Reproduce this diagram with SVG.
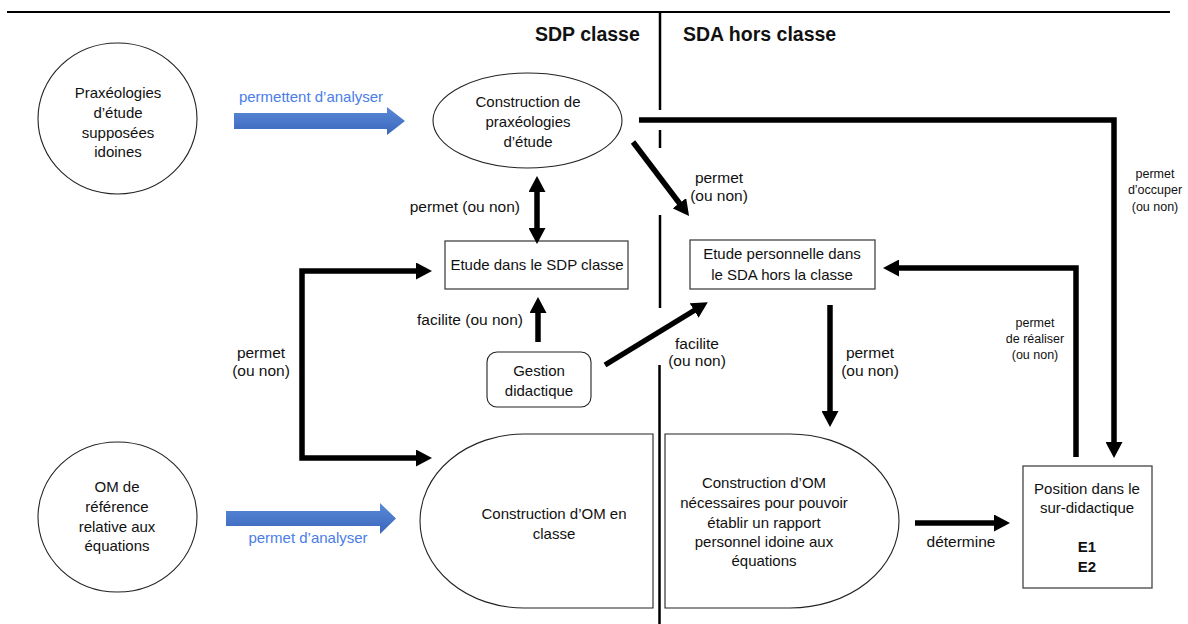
<svg xmlns="http://www.w3.org/2000/svg" width="1188" height="624" viewBox="0 0 1188 624">
<style>
text{font-family:"Liberation Sans",Arial,sans-serif;font-size:15px;fill:#111;}
.c{text-anchor:middle;}
.e{text-anchor:end;}
.t{font-size:19.5px;font-weight:bold;}
.s{font-size:12.5px;}
.lb{font-size:15.5px;}
.bl{fill:#4a7de8;}
.b{font-weight:bold;}
.node{fill:#fff;stroke:#222;stroke-width:1.1;}
.box{fill:#fff;stroke:#444;stroke-width:1.3;}
.con{fill:none;stroke:#000;stroke-width:5.5;}
.div{stroke:#000;stroke-width:2.5;}
</style>
<defs>
<marker id="ah" markerWidth="17" markerHeight="17" refX="1" refY="8.5" orient="auto-start-reverse" markerUnits="userSpaceOnUse">
<path d="M0,0 L16,8.5 L0,17 Z" fill="#000"/>
</marker>
<linearGradient id="bg" x1="0" y1="0" x2="0" y2="1">
<stop offset="0" stop-color="#5b8ad8"/>
<stop offset="1" stop-color="#3a66bc"/>
</linearGradient>
</defs>
<rect width="1188" height="624" fill="#fff"/>
<line x1="7" y1="12" x2="1170" y2="12" stroke="#000" stroke-width="2"/>
<g id="divider">
<line class="div" x1="660" y1="12" x2="660" y2="110"/>
<line class="div" x1="660" y1="130" x2="660" y2="148"/>
<line class="div" x1="660" y1="215" x2="660" y2="308"/>
<line class="div" x1="659.5" y1="365" x2="659.5" y2="624" stroke-width="3.2"/>
</g>
<text class="t" x="535" y="41">SDP classe</text>
<text class="t" x="683" y="41">SDA hors classe</text>

<g id="n-praxeo-idoines">
<ellipse class="node" cx="117.5" cy="118.5" rx="79.5" ry="75.5"/>
<text class="c" x="118" y="98">Praxéologies</text>
<text class="c" x="118" y="118">d’étude</text>
<text class="c" x="118" y="138">supposées</text>
<text class="c" x="118" y="157">idoines</text>
</g>
<g id="n-construction-praxeo">
<ellipse class="node" cx="527.5" cy="120.5" rx="94.5" ry="47.5"/>
<text class="c" x="528" y="107">Construction de</text>
<text class="c" x="528" y="127">praxéologies</text>
<text class="c" x="528" y="147">d’étude</text>
</g>
<g id="n-etude-sdp">
<rect class="box" x="445" y="241" width="183" height="48"/>
<text class="c" x="537" y="270">Etude dans le SDP classe</text>
</g>
<g id="n-gestion">
<rect class="node" x="487" y="352" width="104" height="55" rx="10"/>
<text class="c" x="539" y="376">Gestion</text>
<text class="c" x="539" y="396">didactique</text>
</g>
<g id="n-etude-perso">
<rect class="box" x="690" y="240" width="185" height="49"/>
<text class="c" x="782" y="259">Etude personnelle dans</text>
<text class="c" x="782" y="280">le SDA hors la classe</text>
</g>
<g id="n-om-reference">
<ellipse class="node" cx="117.5" cy="517" rx="79.5" ry="75"/>
<text class="c" x="117" y="492">OM de</text>
<text class="c" x="117" y="512">référence</text>
<text class="c" x="117" y="532">relative aux</text>
<text class="c" x="117" y="551">équations</text>
</g>
<g id="n-om-classe">
<path class="node" d="M653,434 L524,434 A104,87 0 0 0 524,608 L653,608 Z"/>
<text class="c" x="554" y="519">Construction d’OM en</text>
<text class="c" x="554" y="539">classe</text>
</g>
<g id="n-om-necessaires">
<path class="node" d="M665,434 L790,434 A109,87 0 0 1 790,608 L665,608 Z"/>
<text class="c" x="764" y="488">Construction d’OM</text>
<text class="c" x="764" y="508">nécessaires pour pouvoir</text>
<text class="c" x="764" y="528">établir un rapport</text>
<text class="c" x="764" y="547">personnel idoine aux</text>
<text class="c" x="764" y="566">équations</text>
</g>
<g id="n-position">
<rect class="box" x="1023" y="466" width="129" height="122"/>
<text class="c" x="1087" y="494">Position dans le</text>
<text class="c" x="1087" y="513">sur-didactique</text>
<text class="c b" x="1087" y="552">E1</text>
<text class="c b" x="1087" y="572">E2</text>
</g>

<g id="connectors">
<polygon fill="url(#bg)" points="234,113 387,113 387,107 405,121 387,135 387,129 234,129"/>
<polygon fill="url(#bg)" points="226,511 380,511 380,503 396,518.5 380,534 380,526 226,526"/>
<path class="con" d="M537,191 V229" marker-start="url(#ah)" marker-end="url(#ah)"/>
<path class="con" d="M538,342 V312" marker-end="url(#ah)"/>
<path class="con" d="M633,142 L680,204" marker-end="url(#ah)"/>
<path class="con" d="M605,365 L695,310" marker-end="url(#ah)"/>
<path class="con" d="M639,120 H1114 V443" marker-end="url(#ah)"/>
<path class="con" d="M1076,457 V268 H898" marker-end="url(#ah)"/>
<path class="con" d="M830,305 V412" marker-end="url(#ah)"/>
<path class="con" d="M417,271 H302 V458 H417" marker-start="url(#ah)" marker-end="url(#ah)"/>
<path class="con" d="M915,523 H995" marker-end="url(#ah)"/>
</g>
<g id="labels">
<text class="c bl" x="311" y="102">permettent d’analyser</text>
<text class="c bl" x="308" y="543">permet d’analyser</text>
<text class="e lb" x="520" y="212">permet (ou non)</text>
<text class="e lb" x="523" y="325">facilite (ou non)</text>
<text class="c lb" x="261" y="358">permet</text>
<text class="c lb" x="261" y="376">(ou non)</text>
<text class="c lb" x="697" y="349">facilite</text>
<text class="c lb" x="697" y="366">(ou non)</text>
<text class="c lb" x="719" y="183">permet</text>
<text class="c lb" x="719" y="201">(ou non)</text>
<text class="c lb" x="870" y="358">permet</text>
<text class="c lb" x="870" y="376">(ou non)</text>
<text class="c lb" x="961" y="547">détermine</text>
<text class="c s" x="1155" y="178">permet</text>
<text class="c s" x="1155" y="194">d’occuper</text>
<text class="c s" x="1155" y="211">(ou non)</text>
<text class="c s" x="1035" y="327">permet</text>
<text class="c s" x="1035" y="343">de réaliser</text>
<text class="c s" x="1035" y="359">(ou non)</text>
</g>
</svg>
